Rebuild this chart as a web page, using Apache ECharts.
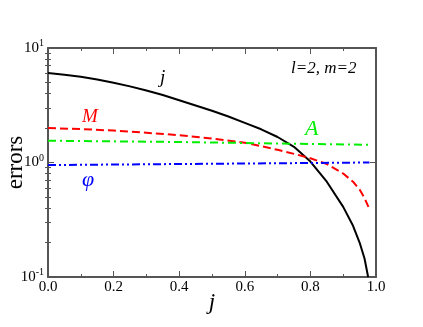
<!DOCTYPE html>
<html><head><meta charset="utf-8">
<script src="https://cdn.jsdelivr.net/npm/echarts@6/dist/echarts.min.js"></script>
<style>html,body{margin:0;padding:0;background:#fff}#c{width:423px;height:327px}</style>
</head><body><div id="c"></div>
<script>
// ---- data ----
const xJ = [0, 0.05, 0.1, 0.15, 0.2, 0.25, 0.3, 0.35, 0.4, 0.45, 0.5, 0.55, 0.6, 0.65, 0.7, 0.75, 0.8, 0.85, 0.9, 0.93, 0.95, 0.965, 0.976];
const yJ = [6.05, 5.85, 5.6, 5.3, 4.97, 4.62, 4.25, 3.88, 3.5, 3.15, 2.83, 2.52, 2.22, 1.95, 1.67, 1.37, 1.02, 0.68, 0.41, 0.28, 0.2, 0.145, 0.1];
const xM = [0, 0.1, 0.2, 0.3, 0.4, 0.5, 0.6, 0.65, 0.7, 0.75, 0.8, 0.85, 0.9, 0.93, 0.95, 0.965, 0.977];
const yM = [2.0, 1.96, 1.9, 1.82, 1.73, 1.62, 1.49, 1.39, 1.29, 1.19, 1.09, 0.97, 0.8, 0.68, 0.58, 0.49, 0.41];
const xA = [0, 0.2, 0.4, 0.6, 0.8, 0.98];
const yA = [1.55, 1.53, 1.51, 1.48, 1.45, 1.43];
const xPhi = [0, 0.2, 0.4, 0.6, 0.8, 0.98];
const yPhi = [0.95, 0.96, 0.97, 0.98, 0.99, 1.0];
const xTicks = [0, 0.2, 0.4, 0.6, 0.8, 1.0];
const yDecades = [0.1, 1, 10];
const yMinor = [0.2,0.3,0.4,0.5,0.6,0.7,0.8,0.9,2,3,4,5,6,7,8,9];

const pair = (xs, ys) => xs.map((x, i) => [x, ys[i]]);
const AX = '#555';
const serif = '"Liberation Serif", "DejaVu Serif", serif';

const chart = echarts.init(document.getElementById('c'), null, {renderer: 'canvas'});
const expOf = v => Math.round(Math.log10(v));
const baseX = {
  type: 'value', min: 0, max: 1, interval: 0.2,
  axisLine: {show: true, onZero: false, lineStyle: {color: AX, width: 2}},
  axisTick: {show: true, inside: true, length: 6, lineStyle: {color: AX, width: 1}},
  minorTick: {show: true, splitNumber: 2, length: 3, lineStyle: {color: AX, width: 1}},
  splitLine: {show: false}, minorSplitLine: {show: false}
};
const baseY = {
  type: 'log', logBase: 10, min: 0.1, max: 10,
  axisLine: {show: true, onZero: false, lineStyle: {color: AX, width: 2}},
  axisTick: {show: true, inside: true, length: 6, lineStyle: {color: AX, width: 1}},
  splitLine: {show: false}
};
const minorY = {
  type: 'log', logBase: 10, min: 0.1, max: 10,
  axisLine: {show: false},
  axisLabel: {show: false},
  axisTick: {show: true, inside: true, length: 3, customValues: yMinor, lineStyle: {color: AX, width: 1}},
  splitLine: {show: false}
};

chart.setOption({
  animation: false,
  backgroundColor: '#fff',
  grid: {left: 48, right: 47, top: 48, bottom: 50, containLabel: false, outerBoundsMode: 'none'},
  xAxis: [
    Object.assign({}, baseX, {
      position: 'bottom',
      name: 'j', nameLocation: 'middle', nameGap: 14, nameMoveOverlap: false,
      nameTextStyle: {fontFamily: serif, fontStyle: 'italic', fontSize: 23, color: '#000', verticalAlign: 'top'},
      axisLabel: {fontFamily: serif, fontSize: 15, color: '#000', margin: 3,
        customValues: xTicks, formatter: v => v.toFixed(1)}
    }),
    Object.assign({}, baseX, {position: 'top', axisLabel: {show: false}})
  ],
  yAxis: [
    Object.assign({}, baseY, {
      position: 'left',
      name: 'errors', nameLocation: 'middle', nameGap: 21, nameRotate: 90, nameMoveOverlap: false,
      nameTextStyle: {fontFamily: serif, fontSize: 23, color: '#000'},
      axisLabel: {
        margin: 4, customValues: yDecades,
        formatter: v => '{b|10}{s|' + expOf(v) + '}',
        rich: {
          b: {fontFamily: serif, fontSize: 15, color: '#000'},
          s: {fontFamily: serif, fontSize: 10, color: '#000', padding: [0, 0, 9, 0]}
        }
      }
    }),
    Object.assign({}, baseY, {position: 'right', axisLabel: {show: false}}),
    Object.assign({}, minorY, {position: 'left'}),
    Object.assign({}, minorY, {position: 'right'})
  ],
  series: [
    {type: 'line', name: 'j', data: pair(xJ, yJ), showSymbol: false,
      lineStyle: {color: '#000', width: 2}},
    {type: 'line', name: 'M', data: pair(xM, yM), showSymbol: false,
      lineStyle: {color: '#ff0000', width: 2, type: [8, 4]}},
    {type: 'line', name: 'A', data: pair(xA, yA), showSymbol: false,
      lineStyle: {color: '#00ee00', width: 2, type: [8, 4, 2, 4]}},
    {type: 'line', name: 'phi', data: pair(xPhi, yPhi), showSymbol: false,
      lineStyle: {color: '#0000ff', width: 2, type: [8, 3, 2, 3, 2, 3]}}
  ],
  graphic: [
    {type: 'text', left: 160, top: 68, style: {text: 'j', fontFamily: serif, fontStyle: 'italic', fontSize: 19, fill: '#000'}},
    {type: 'text', left: 291, top: 60, style: {text: 'l=2, m=2', fontFamily: serif, fontStyle: 'italic', fontSize: 17, fill: '#000'}},
    {type: 'text', left: 82, top: 107, style: {text: 'M', fontFamily: serif, fontStyle: 'italic', fontSize: 19, fill: '#ff0000'}},
    {type: 'text', left: 305, top: 118, style: {text: 'A', fontFamily: serif, fontStyle: 'italic', fontSize: 22, fill: '#00ee00'}},
    {type: 'text', left: 82, top: 169, style: {text: 'φ', fontFamily: serif, fontStyle: 'italic', fontSize: 22, fill: '#0000ff'}}
  ]
});
</script></body></html>
